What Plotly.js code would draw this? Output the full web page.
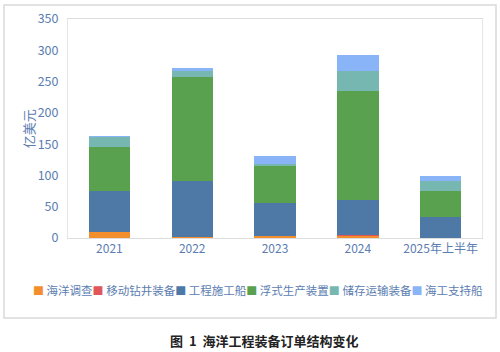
<!DOCTYPE html>
<html>
<head>
<meta charset="utf-8">
<script src="https://cdn.plot.ly/plotly-3.0.1.min.js"></script>
<style>html,body{margin:0;padding:0;background:#fff;}#chart{width:500px;height:352px;}</style>
</head>
<body>
<div id="chart"></div>
<script>
const categories = ['2021', '2022', '2023', '2024', '2025年上半年'];
const seriesNames = ['海洋调查', '移动钻井装备', '工程施工船', '浮式生产装置', '储存运输装备', '海工支持船'];
const seriesColors = ['#F28E2B', '#E15759', '#4E79A7', '#59A14F', '#76B7B2', '#8AB4F8'];
const survey      = [9.5, 2.0, 3.5, 2.5, 0.8];
const drilling    = [0, 0, 0, 2.5, 0];
const construction= [66.0, 89.6, 52.3, 55.7, 32.8];
const floating    = [69.2, 165.0, 58.5, 175.0, 42.0];
const storage     = [16.0, 10.7, 4.4, 32.0, 16.0];
const support     = [2.7, 4.3, 12.7, 24.6, 6.8];
const yTicks = [0, 50, 100, 150, 200, 250, 300, 350];
const yTitle = '亿美元';
const caption = '图  1  海洋工程装备订单结构变化';

const seriesValues = [survey, drilling, construction, floating, storage, support];
const tickColor = '#5B7DB1';
const font = 'Noto Sans CJK SC, Noto Sans, sans-serif';

const traces = seriesValues.map((vals, i) => ({
  type: 'bar',
  x: categories,
  y: vals,
  name: seriesNames[i],
  marker: {color: seriesColors[i]},
  showlegend: false,
  hoverinfo: 'x+y+name'
}));

const legendText = seriesNames.map((n, i) =>
  `<span style="color:${seriesColors[i]};font-size:11px">■</span> ${n}`).join('');

const layout = {
  width: 500, height: 352,
  margin: {l: 68, r: 18, t: 19, b: 114},
  paper_bgcolor: '#ffffff',
  plot_bgcolor: '#ffffff',
  barmode: 'stack',
  bargap: 0.5,
  font: {family: font, size: 12, color: tickColor},
  xaxis: {
    type: 'category',
    showline: true, mirror: true, linecolor: '#DEDEDE', linewidth: 1,
    ticks: '', showgrid: false,
    tickfont: {family: font, size: 12, color: tickColor}
  },
  yaxis: {
    range: [0, 350], tickvals: yTicks, ticktext: yTicks.map(String),
    showline: true, mirror: true, linecolor: '#E6E6E6', linewidth: 1,
    showgrid: false, zeroline: false, ticks: '',
    ticklabelstandoff: 6,
    tickfont: {family: font, size: 12.5, color: tickColor}
  },
  shapes: [{
    type: 'rect', xref: 'paper', yref: 'paper',
    x0: -0.1546, x1: 1.0338, y0: -0.365, y1: 1.064,
    line: {color: '#D9D9D9', width: 1.5}, fillcolor: 'rgba(0,0,0,0)', layer: 'below'
  }],
  annotations: [
    {
      text: yTitle, xref: 'paper', yref: 'paper', x: -0.095, y: 0.5,
      textangle: -90, showarrow: false, xanchor: 'center', yanchor: 'middle',
      font: {family: font, size: 13, color: tickColor}
    },
    {
      text: legendText, xref: 'paper', yref: 'paper', x: 0.46, y: -0.238,
      showarrow: false, xanchor: 'center', yanchor: 'middle',
      font: {family: font, size: 11.5, color: tickColor}
    },
    {
      text: '<b>' + caption + '</b>', xref: 'paper', yref: 'paper', x: 0.4746, y: -0.47,
      showarrow: false, xanchor: 'center', yanchor: 'middle',
      font: {family: font, size: 13, color: '#222222'}
    }
  ]
};

Plotly.newPlot('chart', traces, layout, {displayModeBar: false, staticPlot: true});
</script>
</body>
</html>
